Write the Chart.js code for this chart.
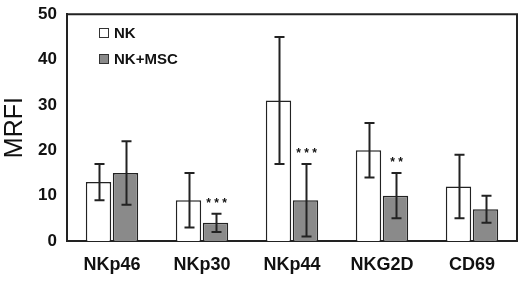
<!DOCTYPE html>
<html>
<head>
<meta charset="utf-8">
<script src="https://cdn.jsdelivr.net/npm/chart.js@4.4.1/dist/chart.umd.min.js"></script>
<style>
  html, body { margin: 0; padding: 0; background: #fff; }
  #wrap { width: 520px; height: 282px; }
</style>
</head>
<body>
<div id="wrap"><canvas id="chart"></canvas></div>
<script>
const categories = ['NKp46', 'NKp30', 'NKp44', 'NKG2D', 'CD69'];
const nkValues = [13, 9, 31, 20, 12];
const nkErrors = [4, 6, 14, 6, 7];
const mscValues = [15, 4, 9, 10, 7];
const mscErrors = [7, 2, 8, 5, 3];
const mscStars = ['', '***', '***', '**', ''];
const yTicks = [0, 10, 20, 30, 40, 50];

const lineColor = '#222';

// error bars, significance stars and the boxed frame
const extras = {
  id: 'extras',
  afterDatasetsDraw(chart) {
    const ctx = chart.ctx;
    const y = chart.scales.y;
    const errs = [nkErrors, mscErrors];
    ctx.save();
    ctx.strokeStyle = lineColor;
    ctx.lineWidth = 2;
    chart.data.datasets.forEach((ds, di) => {
      const meta = chart.getDatasetMeta(di);
      meta.data.forEach((bar, i) => {
        const v = ds.data[i];
        const e = errs[di][i];
        const yt = y.getPixelForValue(v + e);
        const yb = y.getPixelForValue(v - e);
        const x = Math.round(bar.x) + 0.5;
        ctx.beginPath();
        ctx.moveTo(x, yt); ctx.lineTo(x, yb);
        ctx.moveTo(x - 5, yt); ctx.lineTo(x + 5, yt);
        ctx.moveTo(x - 5, yb); ctx.lineTo(x + 5, yb);
        ctx.stroke();
        if (di === 1 && mscStars[i]) {
          ctx.fillStyle = '#111';
          ctx.font = 'bold 12px "Liberation Sans", Arial, sans-serif';
          ctx.textAlign = 'center';
          ctx.textBaseline = 'middle';
          ctx.fillText(mscStars[i].split('').join(' '), x, yt - 10);
        }
      });
    });
    const a = chart.chartArea;
    ctx.lineWidth = 2;
    ctx.beginPath();
    ctx.moveTo(a.left, a.top);
    ctx.lineTo(a.right, a.top);
    ctx.lineTo(a.right, a.bottom);
    ctx.stroke();

    // legend inside the plot
    ctx.font = 'bold 15px "Liberation Sans", Arial, sans-serif';
    ctx.textAlign = 'left';
    ctx.textBaseline = 'middle';
    chart.data.datasets.forEach((ds, di) => {
      const ly = 33 + di * 26;
      ctx.fillStyle = ds.backgroundColor;
      ctx.fillRect(99, ly - 4.5, 9, 9);
      ctx.lineWidth = 1;
      ctx.strokeStyle = '#333';
      ctx.strokeRect(99.5, ly - 4.5, 9, 9);
      ctx.fillStyle = '#111';
      ctx.fillText(ds.label, 114, ly + 1);
    });
    ctx.restore();
  }
};

new Chart(document.getElementById('chart'), {
  type: 'bar',
  data: {
    labels: categories,
    datasets: [{
      label: 'NK',
      data: nkValues,
      backgroundColor: '#ffffff',
      borderColor: lineColor,
      borderWidth: 1.5
    }, {
      label: 'NK+MSC',
      data: mscValues,
      backgroundColor: '#8a8a8a',
      borderColor: lineColor,
      borderWidth: 1.5
    }]
  },
  options: {
    responsive: true,
    maintainAspectRatio: false,
    animation: false,
    layout: { padding: { top: 9, right: 3, left: 0, bottom: 0 } },
    datasets: { bar: { categoryPercentage: 0.6, barPercentage: 0.94 } },
    scales: {
      x: {
        grid: { display: false, drawTicks: false },
        border: { color: lineColor, width: 2 },
        ticks: {
          color: '#111',
          padding: 13,
          font: { family: '"Liberation Sans", Arial, sans-serif', size: 18, weight: 'bold' }
        },
        afterFit(scale) { scale.height = 41; }
      },
      y: {
        min: 0,
        max: 50,
        afterBuildTicks(scale) { scale.ticks = yTicks.map(v => ({ value: v })); },
        grid: { display: false, drawOnChartArea: false, drawTicks: true, tickLength: 6, tickColor: lineColor, tickWidth: 1.5 },
        border: { color: lineColor, width: 2 },
        ticks: {
          color: '#111',
          padding: 4,
          font: { family: '"Liberation Sans", Arial, sans-serif', size: 17, weight: 'bold' }
        },
        title: {
          display: true,
          text: 'MRFI',
          color: '#111',
          padding: 0,
          font: { family: '"Liberation Sans", Arial, sans-serif', size: 25 }
        },
        afterFit(scale) { scale.width = 67; }
      }
    },
    plugins: {
      legend: { display: false },
      tooltip: { enabled: false }
    }
  },
  plugins: [extras]
});
</script>
</body>
</html>
